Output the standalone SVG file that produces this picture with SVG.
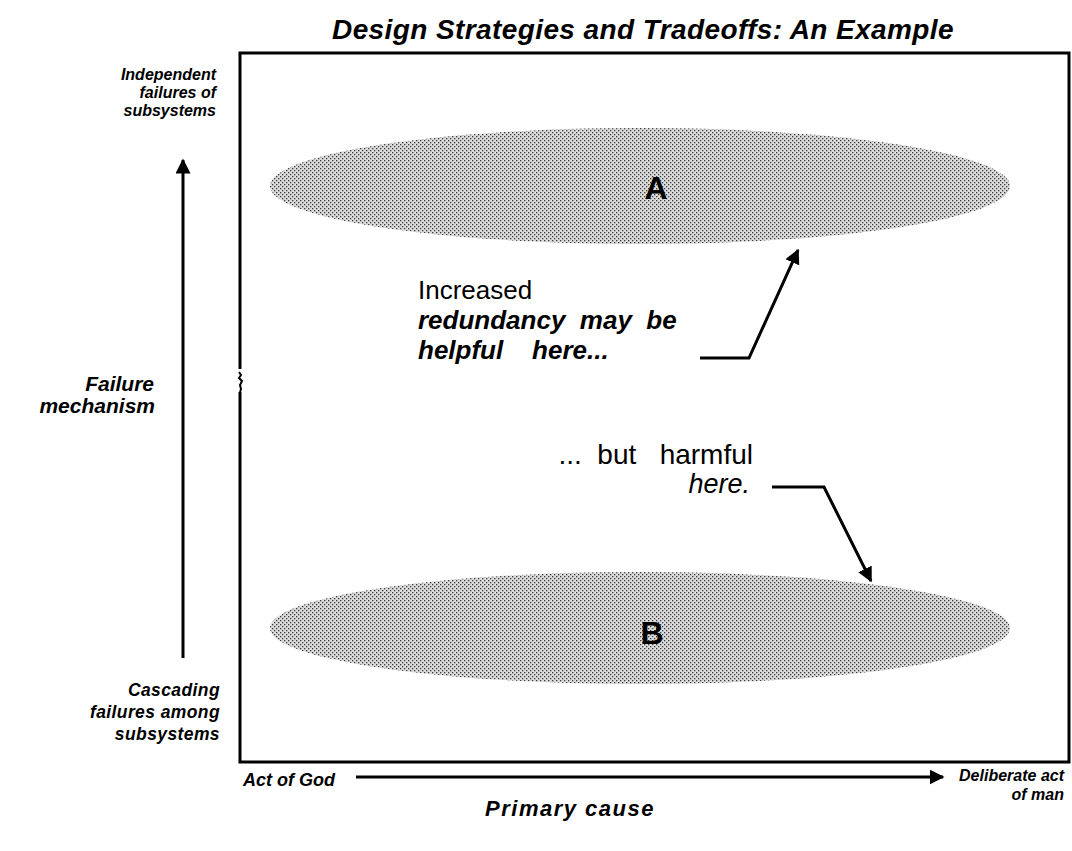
<svg xmlns="http://www.w3.org/2000/svg" width="1072" height="851" viewBox="0 0 1072 851">
<style>
.bi{font-family:"Liberation Sans",Arial,sans-serif;font-weight:bold;font-style:italic;fill:#000}
.r{font-family:"Liberation Sans",Arial,sans-serif;fill:#000}
.ln{fill:none;stroke:#000;stroke-width:3}
.blob{fill:url(#dots)}
</style>
<defs>
<pattern id="dots" width="4" height="4" patternUnits="userSpaceOnUse">
<rect width="4" height="4" fill="#dcdcdc"/>
<rect x="0" y="0" width="1.3" height="1.3" fill="#3a3a3a"/>
<rect x="2" y="2" width="1.3" height="1.3" fill="#3a3a3a"/>
</pattern>
<marker id="ah" viewBox="0 0 10 10" refX="9" refY="5" markerWidth="5" markerHeight="5" orient="auto" markerUnits="strokeWidth">
<path d="M0,0 L10,5 L0,10 z" fill="#000"/>
</marker>
</defs>
<rect width="1072" height="851" fill="#fff"/>
<text class="bi" x="643" y="39" font-size="28" letter-spacing="0.4" text-anchor="middle">Design Strategies and Tradeoffs: An Example</text>
<path id="frame" class="ln" d="M240,369 V53 H1069 V762 H240 V392"/>
<path d="M239,372 l2,3 l-2,3 l3,3 l-2,4 l1,4 l-1,3" fill="none" stroke="#000" stroke-width="2"/>
<g id="yaxis">
<text class="bi" font-size="16" text-anchor="end" x="216" y="80">Independent</text>
<text class="bi" font-size="16" text-anchor="end" x="216" y="98">failures of</text>
<text class="bi" font-size="16" text-anchor="end" x="216" y="116">subsystems</text>
<text class="bi" font-size="21" text-anchor="end" x="154" y="391">Failure</text>
<text class="bi" font-size="21" text-anchor="end" x="155" y="413">mechanism</text>
<text class="bi" font-size="17.5" letter-spacing="0.4" text-anchor="end" x="220" y="696">Cascading</text>
<text class="bi" font-size="17.5" letter-spacing="0.4" text-anchor="end" x="220" y="718">failures among</text>
<text class="bi" font-size="17.5" letter-spacing="0.4" text-anchor="end" x="220" y="740">subsystems</text>
</g>
<g id="xaxis">
<text class="bi" font-size="18" x="243" y="786">Act of God</text>
<text class="bi" font-size="16" text-anchor="end" x="1064" y="781">Deliberate act</text>
<text class="bi" font-size="16" text-anchor="end" x="1064" y="800">of man</text>
<text class="bi" font-size="22" text-anchor="middle" x="570" y="816" letter-spacing="1.5">Primary cause</text>
</g>
<g id="nodeA">
<ellipse class="blob" cx="640" cy="186" rx="370" ry="58"/>
<text class="r" font-size="32" font-weight="bold" x="656" y="199" text-anchor="middle">A</text>
</g>
<g id="nodeB">
<ellipse class="blob" cx="640" cy="628" rx="370" ry="56"/>
<text class="r" font-size="32" font-weight="bold" x="652" y="644" text-anchor="middle">B</text>
</g>
<g id="notes">
<text class="r" font-size="26" x="418" y="299">Increased</text>
<text class="bi" font-size="26" x="418" y="329" xml:space="preserve">redundancy  may  be</text>
<text class="bi" font-size="26" x="418" y="359" xml:space="preserve">helpful    here...</text>
<text class="r" font-size="28" text-anchor="end" x="753" y="464" xml:space="preserve">...  but   harmful</text>
<text class="r" font-size="27" font-style="italic" text-anchor="end" x="750" y="493">here.</text>
</g>
<g id="connectors">
<line class="ln" x1="183" y1="658" x2="183" y2="160" marker-end="url(#ah)"/>
<line class="ln" x1="356" y1="777" x2="943" y2="777" marker-end="url(#ah)"/>
<polyline class="ln" points="700,358 749,358 798,250" marker-end="url(#ah)"/>
<polyline class="ln" points="772,487 824,487 871,581" marker-end="url(#ah)"/>
</g>
</svg>
